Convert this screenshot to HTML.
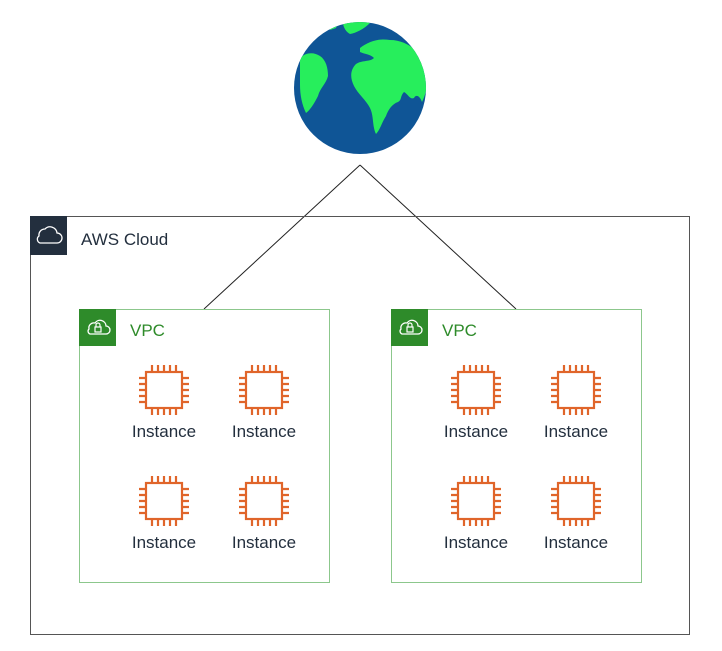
<!DOCTYPE html>
<html><head><style>body{margin:0;background:#fff}svg{display:block}text{font-family:"Liberation Sans",sans-serif}</style></head>
<body>
<svg width="722" height="651" viewBox="0 0 722 651" xmlns="http://www.w3.org/2000/svg">
<defs>
<clipPath id="gc"><circle cx="360" cy="88" r="66"/></clipPath>
<g id="chip" fill="none" stroke="#e0652a" stroke-width="2.2">
<rect x="-18" y="-18" width="36" height="36"/>
<path d="M-12-18v-7M-6-18v-7M0-18v-7M6-18v-7M12-18v-7M-12 18v7M-6 18v7M0 18v7M6 18v7M12 18v7M-18-12h-7M-18-6h-7M-18 0h-7M-18 6h-7M-18 12h-7M18-12h7M18-6h7M18 0h7M18 6h7M18 12h7"/>
</g>
<g id="inst"><use href="#chip"/><text x="0" y="47" font-size="17" text-anchor="middle" fill="#232f3e">Instance</text></g>
<g id="vpc">
<rect x="0.5" y="0.5" width="250" height="273" fill="none" stroke="#8cc78c" stroke-width="1"/>
<rect x="0" y="0" width="37" height="37" fill="#2e8b2a"/>
<path d="M11 25h16a4 4 0 0 0 0-8a6 6 0 0 0-11-3a5 5 0 0 0-6 6a3 3 0 0 0 1 5z" fill="none" stroke="#fff" stroke-width="1.3"/>
<rect x="16" y="18" width="6" height="5" fill="none" stroke="#fff" stroke-width="1.2"/>
<path d="M17 18v-2a2 2 0 0 1 4 0v2" fill="none" stroke="#fff" stroke-width="1.2"/>
<text x="51" y="27" font-size="17" fill="#2e8b2a">VPC</text>
</g>
</defs>
<circle cx="360" cy="88" r="66" fill="#0f5596"/>
<g fill="#27ee5c" clip-path="url(#gc)">
<path d="M328 24l10-2l-2 6l-6 2z"/>
<path d="M343 24c8-2 18-4 27-1c-6 6-14 10-20 11c-4-2-6-6-7-10z"/>
<path d="M300 58c6-6 14-6 20-2c6 4 8 12 8 20c-2 8-8 12-10 20c-4 8-8 14-12 17c-4-8-6-18-6-28c0-10 0-20 0-27z"/>
<path d="M360 48c8-6 18-10 30-8c10 0 18 4 26 10c8 8 10 16 12 24c0 10-2 20-6 28c-2-6-6-8-8-4c-4 2-6-4-10-6c-4 4-2 8-6 10c-6 2-10 8-12 14c-4 6-6 14-10 18c-4-8-2-18-6-26c-4-8-12-14-16-22c-4-8-4-16 2-22c6-4 14-2 18-6c-4-4-10-4-14-6z"/>
</g>
<path d="M360 165L204 309M360 165L516 309" stroke="#222" stroke-width="1" fill="none"/>
<rect x="30.5" y="216.5" width="659" height="418" fill="none" stroke="#555" stroke-width="1"/>
<rect x="30" y="216" width="37" height="39" fill="#232f3e"/>
<path d="M40 243h17a5 5 0 0 0 0-10a7 7 0 0 0-12-4a6 6 0 0 0-6 7a4 4 0 0 0 1 7z" fill="none" stroke="#fff" stroke-width="1.3"/>
<text x="81" y="245" font-size="17" fill="#232f3e">AWS Cloud</text>
<use href="#vpc" x="79" y="309"/>
<use href="#vpc" x="391" y="309"/>
<use href="#inst" x="164" y="390"/><use href="#inst" x="264" y="390"/>
<use href="#inst" x="164" y="501"/><use href="#inst" x="264" y="501"/>
<use href="#inst" x="476" y="390"/><use href="#inst" x="576" y="390"/>
<use href="#inst" x="476" y="501"/><use href="#inst" x="576" y="501"/>
</svg>
</body></html>
